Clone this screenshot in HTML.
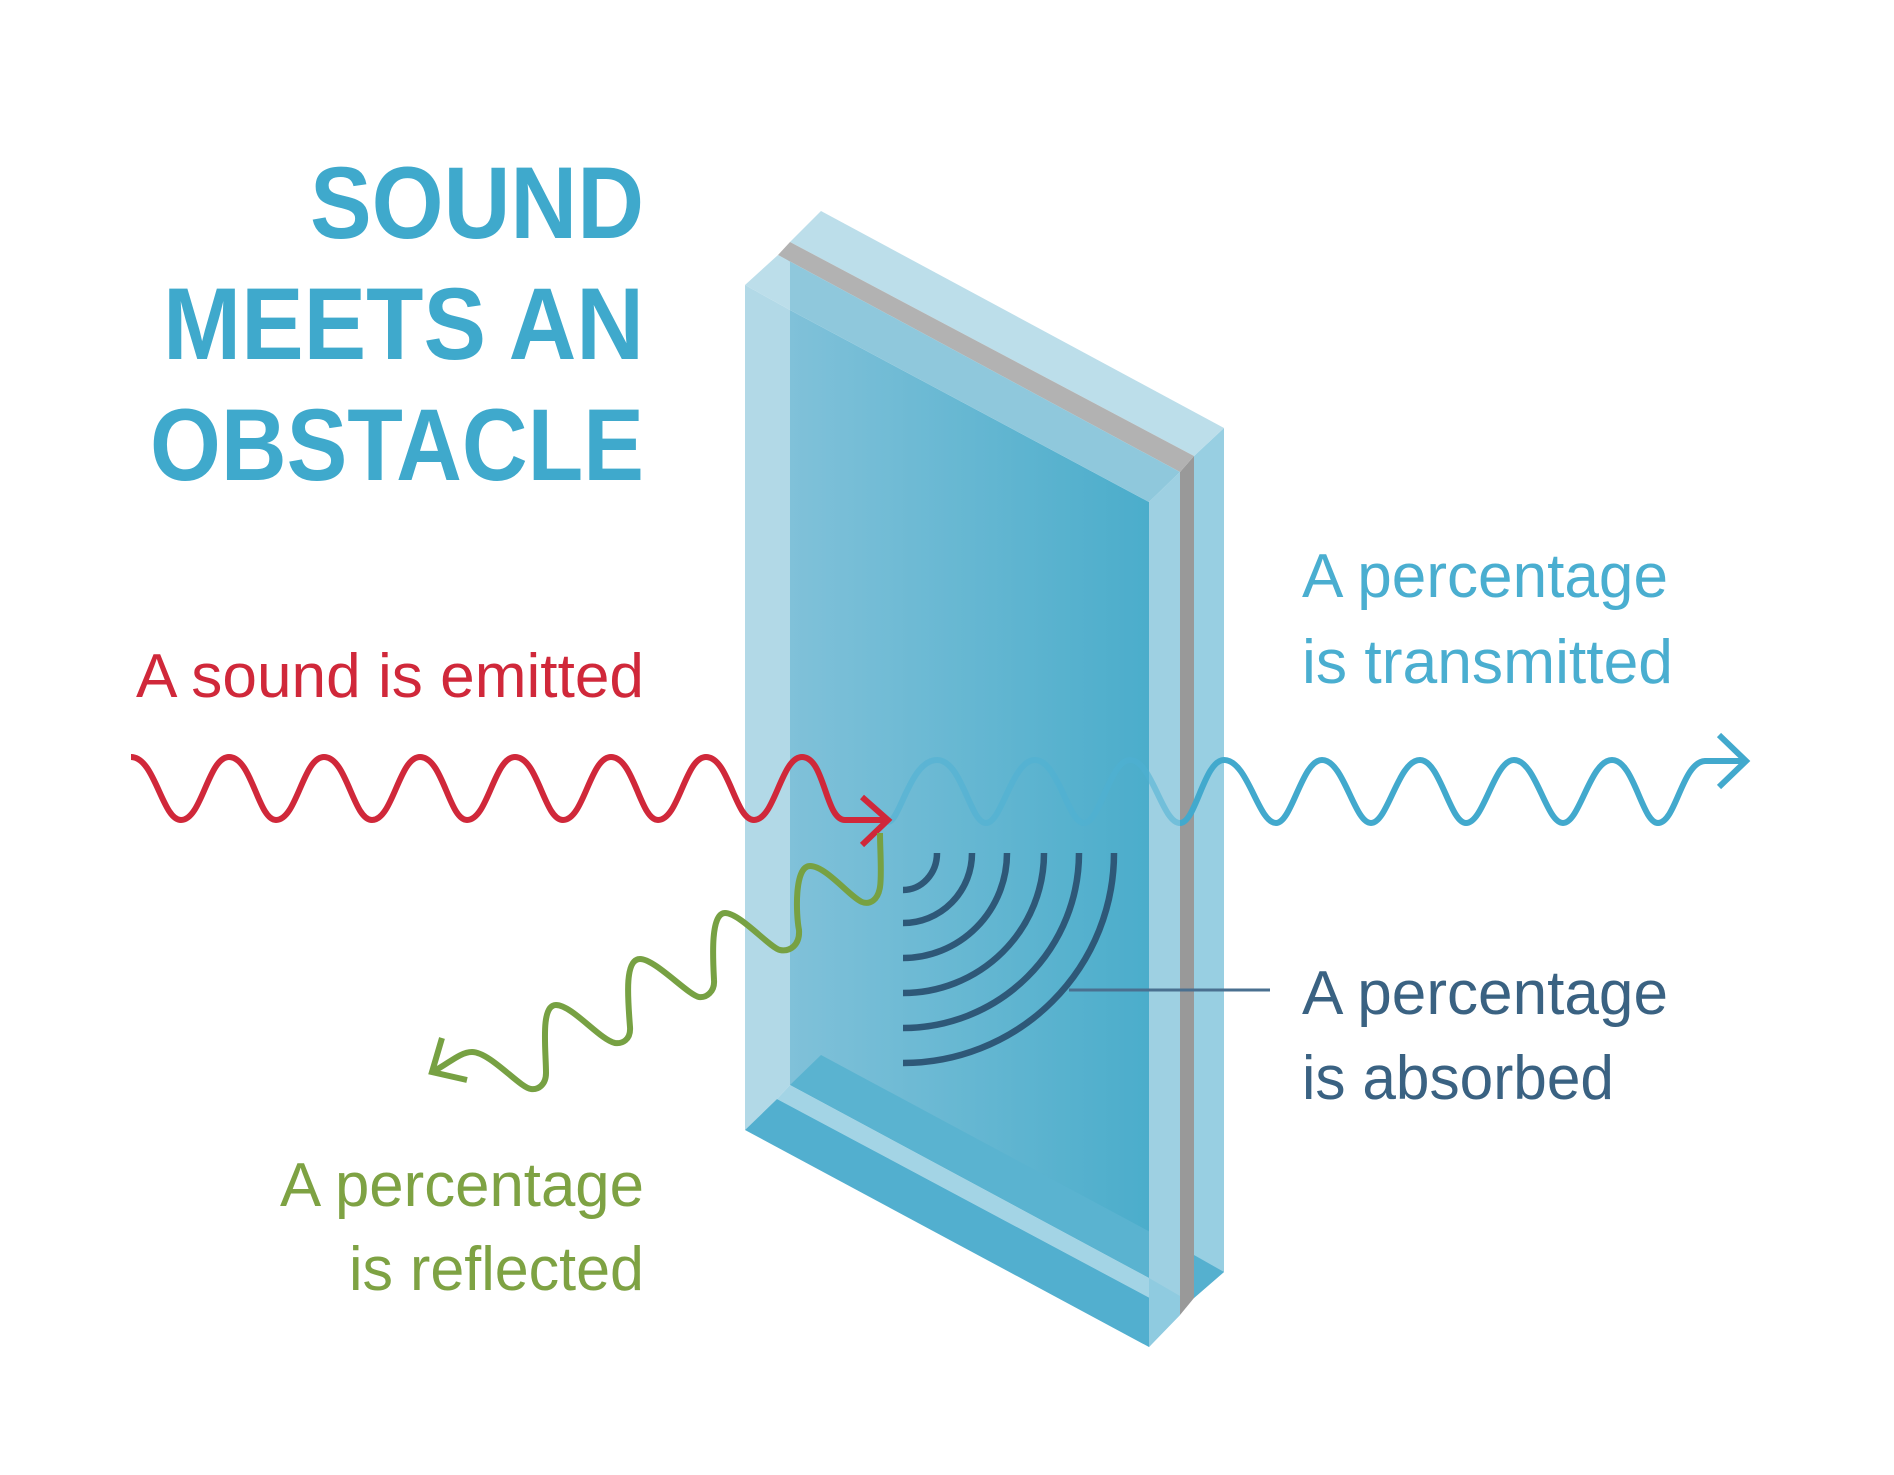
<!DOCTYPE html>
<html><head><meta charset="utf-8"><style>
html,body{margin:0;padding:0;background:#fff;}
svg{display:block;}
</style></head><body>
<svg width="1894" height="1475" viewBox="0 0 1894 1475" xmlns="http://www.w3.org/2000/svg">
<defs>
<linearGradient id="pane" x1="790" y1="0" x2="1149" y2="0" gradientUnits="userSpaceOnUse">
<stop offset="0" stop-color="#80c1d9"/><stop offset="1" stop-color="#4badcb"/>
</linearGradient>
</defs>
<rect width="1894" height="1475" fill="#fff"/>
<g font-family="Liberation Sans, sans-serif" font-weight="bold" font-size="102" fill="#3fa9cc" text-anchor="end">
<text x="644" y="238" textLength="334" lengthAdjust="spacingAndGlyphs">SOUND</text>
<text x="644" y="359" textLength="481" lengthAdjust="spacingAndGlyphs">MEETS AN</text>
<text x="644" y="480" textLength="494" lengthAdjust="spacingAndGlyphs">OBSTACLE</text>
</g>
<polygon points="745,285 790,310 790,1085 777,1099 745,1130" fill="#b2d9e7"/>
<polygon points="790,310 1149,502 1149,1278 790,1085" fill="url(#pane)"/>
<polygon points="790,1085 821,1055 1180,1248 1149,1278" fill="#5ab3d0"/>
<polygon points="790,1085 1149,1278 1178,1313 777,1099" fill="#a3d4e5"/>
<polygon points="745,1130 777,1099 1178,1313 1149,1347" fill="#52afcf"/>
<polygon points="1149,502 1180,472 1180,1315 1149,1347" fill="#9ed0e2"/>
<polygon points="1180,472 1194,456 1194,1298 1180,1315" fill="#999"/>
<polygon points="1194,456 1224,428 1224,1272 1194,1298" fill="#98cfe2"/>
<polygon points="1149,1278 1180,1296 1180,1315 1149,1347" fill="#8fcbe0"/>
<polygon points="1194,1255 1224,1272 1194,1298" fill="#55b0cf"/>
<polygon points="821,211 1224,428 1194,456 790,242" fill="#bcdeea"/>
<polygon points="790,242 1194,456 1180,472 778,255" fill="#b2b2b2"/>
<polygon points="778,255 1180,472 1149,502 790,310 790,262" fill="#8fc8dc"/>
<polygon points="745,285 778,255 790,262 790,310" fill="#bcdeea"/>
<path d="M888,822 C900,822 910,760 937,760 C962,760 970,823 986,823 C1002,823 1012,760 1035,760 C1058,760 1068,823 1084,823 C1100,823 1110,760 1130,760 C1152,760 1162,823 1180,823" fill="none" stroke="#4fb1d3" stroke-width="6" opacity="0.55"/>
<path d="M1180,823 C1196,823 1204,760 1224,760 C1248,760 1258,823 1276,823 C1292,823 1302,760 1322,760 C1344,760 1354,823 1371,823 C1388,823 1398,760 1420,760 C1440,760 1450,823 1466,823 C1484,823 1494,760 1514,760 C1536,760 1546,823 1563,823 C1580,823 1590,760 1612,760 C1634,760 1642,823 1658,823 C1676,823 1682,762 1705,761 L1745,761" fill="none" stroke="#42a9cd" stroke-width="6"/>
<polyline points="1719,735 1746,761 1719,787" fill="none" stroke="#42a9cd" stroke-width="6"/>
<path d="M131,757 C155,757 162,820 181,820 C202,820 208,757 229,757 C252,757 258,820 276,820 C297,820 303,757 324,757 C347,757 353,820 372,820 C393,820 399,757 420,757 C443,757 449,820 467,820 C488,820 494,757 515,757 C538,757 544,820 563,820 C584,820 590,757 611,757 C634,757 640,820 658,820 C679,820 685,757 706,757 C729,757 735,820 754,820 C775,820 781,757 802,757 C825,757 825,820 845,820 L886,820" fill="none" stroke="#d0283a" stroke-width="6"/>
<polyline points="862,797 888,820 862,845" fill="none" stroke="#d0283a" stroke-width="6"/>
<path d="M880,833 C880,850 882,875 880,887 C878,900 870,905 862,902 C850,897 826,866 810,866 C794,866 796,915 799,930 C800,945 790,952 780,950 C770,948 740,913 725,913 C710,913 713,960 714,980 C715,992 706,998 699,997 C688,995 655,959 640,959 C624,959 628,1000 630,1027 C631,1040 622,1044 615,1043 C600,1040 572,1005 556,1005 C540,1005 546,1050 546,1073 C546,1085 538,1090 531,1089 C520,1088 490,1052 472,1052 C460,1052 448,1064 434,1071" fill="none" stroke="#77a143" stroke-width="6"/>
<polyline points="442,1038 432,1072 467,1080" fill="none" stroke="#77a143" stroke-width="6"/>
<g fill="none" stroke="#2e5878" stroke-width="6.5">
<path d="M937,853 A34,37 0 0 1 903,890"/>
<path d="M972,853 A69,70 0 0 1 903,923"/>
<path d="M1007,853 A104,105 0 0 1 903,958"/>
<path d="M1044,853 A141,140 0 0 1 903,993"/>
<path d="M1079,853 A176,175 0 0 1 903,1028"/>
<path d="M1114,853 A211,210 0 0 1 903,1063"/>
</g>
<line x1="1069" y1="990" x2="1270" y2="990" stroke="#4a7090" stroke-width="3"/>
<g font-family="Liberation Sans, sans-serif" font-size="62">
<text x="644" y="697" fill="#d0283a" text-anchor="end" textLength="508" lengthAdjust="spacingAndGlyphs">A sound is emitted</text>
<text x="1302" y="597" fill="#4aaed0" textLength="366" lengthAdjust="spacingAndGlyphs">A percentage</text>
<text x="1302" y="683" fill="#4aaed0" textLength="371" lengthAdjust="spacingAndGlyphs">is transmitted</text>
<text x="1302" y="1014" fill="#3a6282" textLength="366" lengthAdjust="spacingAndGlyphs">A percentage</text>
<text x="1302" y="1099" fill="#3a6282" textLength="312" lengthAdjust="spacingAndGlyphs">is absorbed</text>
<text x="644" y="1206" fill="#7ea243" text-anchor="end" textLength="364" lengthAdjust="spacingAndGlyphs">A percentage</text>
<text x="644" y="1290" fill="#7ea243" text-anchor="end" textLength="295" lengthAdjust="spacingAndGlyphs">is reflected</text>
</g>
</svg>
</body></html>
